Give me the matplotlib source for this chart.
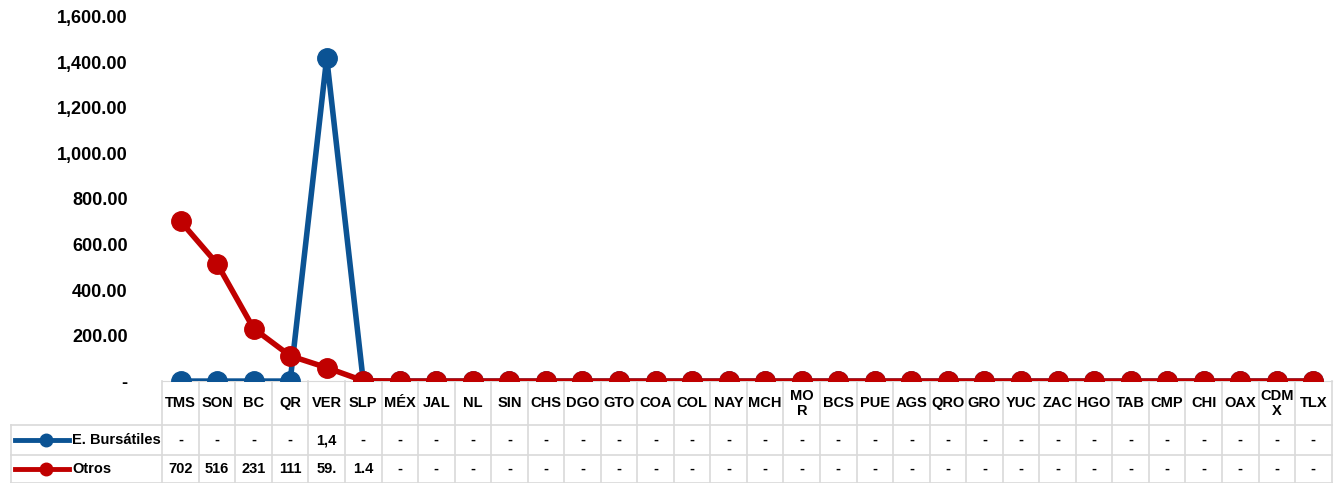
import numpy as np
import matplotlib.pyplot as plt
from matplotlib.lines import Line2D

plt.rcParams['font.family'] = ['Liberation Sans', 'DejaVu Sans']

# categories (states)
states = ["TMS", "SON", "BC", "QR", "VER", "SLP", "MÉX", "JAL", "NL", "SIN", "CHS", "DGO",
          "GTO", "COA", "COL", "NAY", "MCH", "MO\nR", "BCS", "PUE", "AGS", "QRO", "GRO",
          "YUC", "ZAC", "HGO", "TAB", "CMP", "CHI", "OAX", "CDM\nX", "TLX"]
bursatiles = [0, 0, 0, 0, 1420, 0] + [0] * 26
otros = [702, 516, 231, 111, 59, 1.4] + [0] * 26
# table texts as shown (truncated by the cell widths)
bursatiles_txt = ["-", "-", "-", "-", "1,4", "-"] + ["-"] * 26
otros_txt = ["702", "516", "231", "111", "59.", "1.4"] + ["-"] * 26

blue = "#0b5394"
red = "#c00000"
grid = "#d9d9d9"

fig = plt.figure(figsize=(13.41, 4.83), dpi=100)
ax = fig.add_axes([0.121, 0.211, 0.872, 0.754])
x = np.arange(len(states))
ax.plot(x, bursatiles, color=blue, lw=4, marker="o", ms=14, zorder=3)
ax.plot(x, otros, color=red, lw=4, marker="o", ms=14, zorder=4)

ax.set_xlim(-0.5, len(states) - 0.5)
ax.set_ylim(0, 1600)
ax.set_yticks(np.arange(0, 1601, 200))
ax.set_yticklabels(["-"] + [f"{v:,.2f}" for v in range(200, 1601, 200)],
                   fontsize=13, fontweight="bold")
ax.tick_params(axis="y", length=0, pad=25)
ax.set_xticks([])
for s in ["top", "right", "left"]:
    ax.spines[s].set_visible(False)
ax.spines["bottom"].set_color(grid)

# data table drawn under the axes (y in axes fraction)
tr = ax.get_xaxis_transform()
h = 364.0
y_top, y_r1, y_r2, y_bot = 0, -44 / h, -74 / h, -102 / h
xl = -0.5 - (162 - 10) / 36.6
kw = dict(transform=tr, clip_on=False, color=grid, lw=1.2)
for i in range(len(states) + 1):
    ax.plot([i - 0.5, i - 0.5], [y_top, y_bot], **kw)
for yy in [y_r1, y_r2, y_bot]:
    ax.plot([xl, len(states) - 0.5], [yy, yy], **kw)
ax.plot([xl, xl], [y_r1, y_bot], **kw)

for i, s in enumerate(states):
    ax.text(i, y_r1 / 2, s, transform=tr, ha="center", va="center", fontsize=10.5,
            fontweight="bold", linespacing=1.1)
    ax.text(i, (y_r1 + y_r2) / 2, bursatiles_txt[i], transform=tr, ha="center",
            va="center", fontsize=10.5, fontweight="bold")
    ax.text(i, (y_r2 + y_bot) / 2, otros_txt[i], transform=tr, ha="center",
            va="center", fontsize=10.5, fontweight="bold")

for yy, c, lab in [((y_r1 + y_r2) / 2, blue, "E. Bursátiles"), ((y_r2 + y_bot) / 2, red, "Otros")]:
    ax.add_line(Line2D([xl + 0.12, xl + 1.6], [yy, yy], color=c, lw=3.5,
                       transform=tr, clip_on=False))
    ax.add_line(Line2D([xl + 0.98], [yy], color=c, marker="o", ms=9,
                       transform=tr, clip_on=False))
    ax.text(xl + 1.68, yy, lab, transform=tr, ha="left", va="center", fontsize=10.5,
            fontweight="bold")

fig.savefig("out.png", dpi=100)
